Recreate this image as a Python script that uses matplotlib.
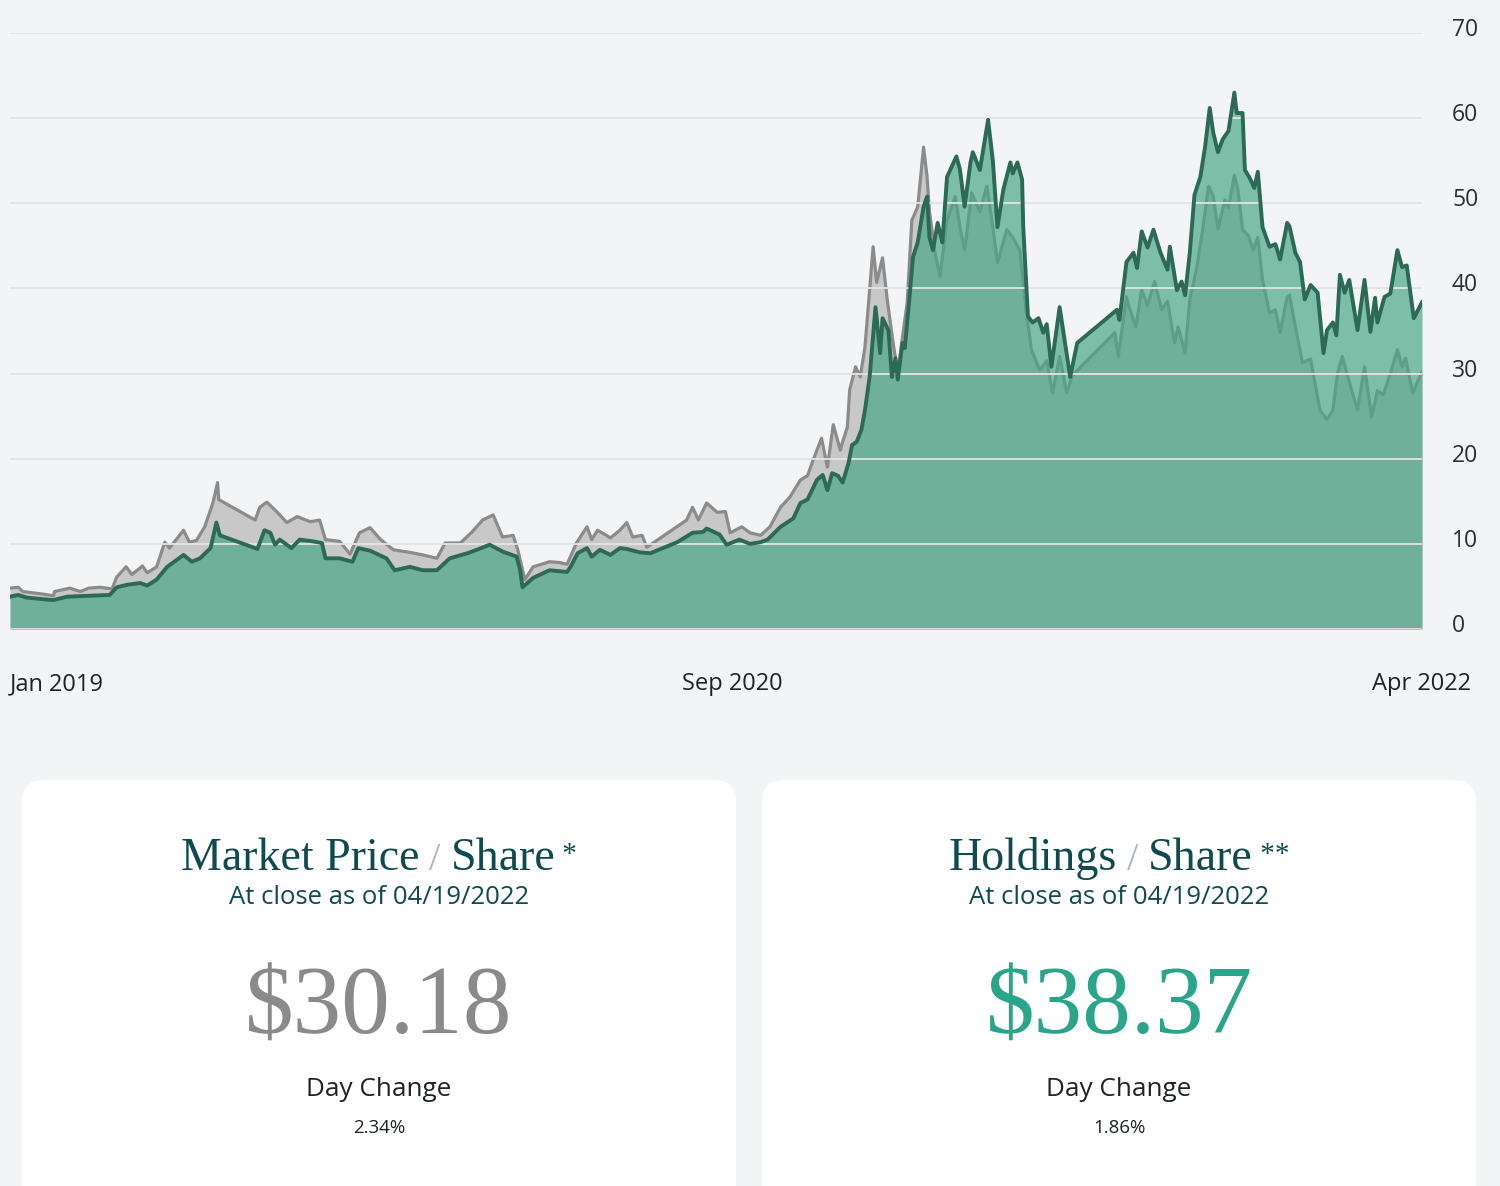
import matplotlib
matplotlib.use("Agg")
import matplotlib.pyplot as plt
from matplotlib.patches import FancyBboxPatch
import pandas as pd

# ---------------- data (days since 2019-01-01, value in $) ----------------
start = pd.Timestamp("2019-01-01")
end = pd.Timestamp("2022-04-19")

holdings_days = [0, 7, 14, 28, 37, 49, 66, 85, 91, 100, 111, 117, 125, 134, 139, 148, 155, 162,
                 171, 176, 179, 211, 217, 222, 226, 230, 240, 247, 258, 266, 269, 281, 292, 297,
                 307, 321, 328, 341, 352, 364, 375, 390, 398, 409, 420, 432, 435, 437, 446, 460,
                 475, 478, 484, 492, 496, 503, 512, 520, 526, 537, 546, 569, 582, 591, 594, 605,
                 611, 622, 631, 640, 646, 657, 668, 674, 680, 688, 693, 697, 701, 706, 710, 715,
                 718, 722, 726, 729, 733, 738, 742, 744, 749, 752, 755, 757, 761, 763, 767, 770,
                 774, 779, 782, 784, 787, 791, 795, 799, 803, 807, 810, 814, 819, 821, 827, 834,
                 838, 842, 847, 853, 855, 859, 863, 864, 868, 872, 877, 881, 884, 888, 895, 904,
                 910, 944, 946, 952, 958, 961, 965, 970, 975, 981, 987, 989, 995, 999, 1002, 1006,
                 1010, 1015, 1019, 1023, 1026, 1030, 1034, 1039, 1044, 1046, 1051, 1053, 1057,
                 1061, 1064, 1068, 1074, 1079, 1083, 1089, 1091, 1096, 1100, 1104, 1109, 1115,
                 1120, 1123, 1128, 1131, 1134, 1138, 1142, 1149, 1155, 1160, 1164, 1166, 1172,
                 1177, 1183, 1187, 1191, 1197, 1204]
holdings = [3.8, 4.0, 3.7, 3.5, 3.4, 3.8, 3.9, 4.0, 4.9, 5.2, 5.4, 5.1, 5.8, 7.3, 7.8, 8.7, 7.9, 8.3,
            9.5, 12.5, 11.0, 9.4, 11.6, 11.3, 9.9, 10.5, 9.5, 10.5, 10.3, 10.1, 8.3, 8.3, 7.9, 9.5,
            9.2, 8.3, 6.9, 7.3, 6.9, 6.9, 8.3, 8.9, 9.3, 9.9, 9.1, 8.5, 6.9, 4.9, 6.0, 6.9,
            6.7, 7.3, 8.9, 9.5, 8.5, 9.3, 8.7, 9.5, 9.4, 9.0, 8.9, 10.2, 11.3, 11.4, 11.8, 11.1,
            9.9, 10.5, 10.0, 10.2, 10.5, 12.0, 13.0, 14.8, 15.2, 17.5, 18.1, 16.3, 18.3, 18.0, 17.2, 19.5,
            21.6, 22.0, 23.4, 25.7, 29.6, 37.8, 32.4, 36.5, 35.1, 29.6, 31.8, 29.3, 33.6, 33.0, 39.0, 43.7,
            45.4, 49.6, 50.8, 46.0, 44.5, 47.7, 45.4, 53.1, 54.3, 55.5, 54.0, 49.6, 54.8, 56.0, 53.9, 59.8,
            55.1, 47.2, 51.6, 54.8, 53.5, 54.8, 52.8, 47.2, 36.7, 36.0, 36.5, 34.8, 35.8, 30.8, 37.8, 29.6,
            33.6, 37.5, 36.3, 43.1, 44.2, 42.4, 46.7, 44.8, 46.9, 44.2, 42.2, 44.9, 39.8, 40.8, 39.2, 44.2,
            51.0, 53.1, 56.6, 61.2, 58.3, 56.0, 57.5, 58.5, 63.0, 60.6, 60.6, 53.9, 53.0,
            51.8, 53.7, 47.2, 44.9, 45.2, 43.4, 47.7, 47.3, 44.2, 43.1, 38.7, 40.4, 39.5,
            32.4, 35.1, 36.0, 34.5, 41.6, 39.5, 41.0, 35.1, 41.0, 34.9, 38.9, 36.0, 39.0,
            39.4, 44.5, 42.5, 42.7, 36.5, 38.37]

market_days = [0, 7, 11, 28, 37, 38, 51, 60, 67, 77, 87, 91, 99, 104, 113, 117, 125, 132, 136, 148,
               153, 159, 166, 173, 177, 178, 209, 213, 219, 228, 236, 245, 256, 264, 269, 281, 290,
               298, 307, 316, 327, 341, 352, 364, 371, 384, 394, 403, 412, 420, 429, 433, 439, 446,
               460, 469, 475, 483, 492, 496, 501, 506, 512, 520, 526, 531, 539, 543, 577, 582, 587,
               594, 603, 610, 614, 624, 631, 640, 648, 657, 665, 674, 680, 685, 692, 697, 702, 708,
               710, 714, 716, 721, 725, 729, 736, 739, 744, 748, 753, 757, 761, 765, 769, 774, 779,
               782, 784, 789, 793, 799, 806, 810, 814, 820, 827, 833, 838, 842, 850, 855, 861, 867,
               871, 878, 884, 889, 895, 901, 906, 942, 945, 952, 955, 960, 965, 970, 976, 982, 987,
               993, 996, 1002, 1006, 1012, 1017, 1022, 1026, 1030, 1036, 1039, 1044, 1047, 1051,
               1056, 1060, 1064, 1068, 1074, 1079, 1083, 1089, 1091, 1097, 1102, 1109, 1117, 1123,
               1128, 1132, 1136, 1140, 1149, 1155, 1161, 1166, 1171, 1177, 1183, 1187, 1190, 1196,
               1204]
market = [4.8, 4.9, 4.4, 4.1, 3.9, 4.4, 4.8, 4.4, 4.8, 4.9, 4.7, 6.1, 7.3, 6.4, 7.4, 6.6, 7.3, 10.2, 9.5, 11.6,
          10.2, 10.4, 12.0, 14.8, 17.2, 15.2, 12.8, 14.3, 14.9, 13.7, 12.5, 13.2, 12.6, 12.8, 10.5, 10.3, 8.8,
          11.3, 11.9, 10.5, 9.3, 9.0, 8.7, 8.3, 10.1, 10.1, 11.4, 12.8, 13.4, 10.8, 11.0, 9.3, 5.8, 7.3,
          7.9, 7.8, 7.6, 10.1, 12.0, 10.5, 11.6, 11.2, 10.7, 11.6, 12.5, 10.8, 11.0, 9.6, 12.8, 14.3, 12.8,
          14.8, 13.7, 13.8, 11.3, 12.0, 11.3, 11.0, 12.0, 14.3, 15.5, 17.5, 18.0, 19.9, 22.4, 19.0, 24.0, 21.0,
          22.0, 23.7, 28.1, 30.8, 29.6, 33.1, 44.9, 40.7, 43.6, 38.7, 33.6, 30.0, 34.3, 38.3, 48.0, 49.6, 56.6,
          53.1, 49.0, 44.0, 41.4, 48.0, 50.8, 47.2, 44.5, 51.2, 49.0, 52.0, 47.2, 43.0, 46.9, 46.0, 44.5, 36.7,
          32.8, 30.4, 31.5, 27.7, 32.0, 27.7, 29.8, 34.8, 32.0, 39.0, 37.5, 35.5, 39.8, 38.0, 40.8, 37.5, 38.5,
          33.6, 35.5, 32.4, 38.7, 42.5, 46.9, 52.0, 50.8, 47.0, 50.4, 49.5, 53.3, 51.6, 46.9,
          46.2, 44.5, 46.0, 41.0, 37.1, 37.5, 34.8, 39.0, 39.2, 34.8, 31.3, 31.7, 25.7, 24.6,
          25.7, 30.0, 32.0, 30.0, 25.7, 30.8, 24.9, 28.0, 27.5, 30.0, 32.8, 30.8, 31.8, 27.7,
          30.18]

y_ticks = [0, 10, 20, 30, 40, 50, 60, 70]
x_tick_dates = ["2019-01-01", "2020-09-08", "2022-04-19"]
x_tick_labels = ["Jan 2019", "Sep 2020", "Apr 2022"]

cards = [
    {"title": ["Market Price", "Share", "*"], "sub": "At close as of 04/19/2022",
     "value": "$30.18", "vcolor": "#8a8a8a", "chg": "2.34%"},
    {"title": ["Holdings", "Share", "**"], "sub": "At close as of 04/19/2022",
     "value": "$38.37", "vcolor": "#2aa58a", "chg": "1.86%"},
]

# ---------------- figure ----------------
W, H = 1500, 1186
BG = "#f3f4f6"
fig = plt.figure(figsize=(W / 100, H / 100), dpi=100)
fig.patch.set_facecolor(BG)

SANS = ["Open Sans", "DejaVu Sans"]
SERIF = ["Liberation Serif", "DejaVu Serif"]
TITLE_C = "#0f4a50"
TEXT_C = "#1e2326"

# overlay axes in pixel coordinates for cards
ov = fig.add_axes([0, 0, 1, 1], zorder=0)
ov.set_xlim(0, W)
ov.set_ylim(H, 0)
ov.axis("off")
renderer = fig.canvas.get_renderer()


def centered_pieces(xc, y, pieces):
    texts = []
    for s, dy, kw in pieces:
        t = ov.text(0, y + dy, s, ha="left", va="baseline", zorder=2, **kw)
        texts.append(t)
    widths = [t.get_window_extent(renderer).width for t in texts]
    x = xc - sum(widths) / 2
    for t, w in zip(texts, widths):
        t.set_x(x)
        x += w


card_boxes = [(22, 780, 714), (762, 780, 714)]
for (cx, cy, cw), c in zip(card_boxes, cards):
    box = FancyBboxPatch((cx, cy), cw, 460, boxstyle="round,pad=0,rounding_size=22",
                         facecolor="white", edgecolor="none", zorder=1)
    ov.add_patch(box)
    mid = cx + cw / 2
    main_kw = dict(fontsize=33, family=SERIF, color=TITLE_C)
    centered_pieces(mid, 870, [
        (c["title"][0], 0, main_kw),
        (" / ", 0, dict(fontsize=29, family=SERIF, color="#a9b6b8")),
        (c["title"][1], 0, main_kw),
        (" " + c["title"][2], -8, dict(fontsize=21, family=SERIF, color=TITLE_C)),
    ])
    ov.text(mid, 898, c["sub"], ha="center", va="center", fontsize=18.5,
            family=SANS, color=TITLE_C, zorder=2)
    ov.text(mid, 1010, c["value"], ha="center", va="center", fontsize=70,
            family=SERIF, color=c["vcolor"], zorder=2)
    ov.text(mid, 1090, "Day Change", ha="center", va="center", fontsize=18.8,
            family=SANS, color=TEXT_C, zorder=2)
    ov.text(mid, 1128, c["chg"], ha="center", va="center", fontsize=13.5,
            family=SANS, color=TEXT_C, zorder=2)

# main chart
ax = fig.add_axes([10 / W, 1 - 629 / H, 1412 / W, (629 - 33) / H], zorder=2)
ax.set_facecolor("none")

hd = start + pd.to_timedelta(holdings_days, unit="D")
md = start + pd.to_timedelta(market_days, unit="D")

ax.fill_between(md, market, 0, color="#c8c8c9", lw=0, zorder=1)
ax.plot(md, market, color="#8b8b8b", lw=2.3, zorder=1.2, solid_joinstyle="round")
ax.fill_between(hd, holdings, 0, color="#4aa787", alpha=0.7, lw=0, zorder=1.5)
ax.plot(hd, holdings, color="#2c6a56", lw=2.8, zorder=3, solid_joinstyle="round")

ax.set_xlim(start, end)
ax.set_ylim(0, 70)
for s in ax.spines.values():
    s.set_visible(False)

ax.set_yticks(y_ticks)
ax.tick_params(axis="y", length=0, labelleft=False, labelright=False)
ax.grid(axis="y", color="#e2e4e7", lw=1.3)
ax.set_axisbelow(False)
for v in y_ticks:
    ax.annotate(str(v), xy=(1, v), xycoords=("axes fraction", "data"),
                xytext=(30 * 0.72, 3 * 0.72), textcoords="offset points",
                ha="left", va="center", fontsize=16.5, family=SANS, color="#2b2f33",
                annotation_clip=False)

ax.set_xticks(pd.to_datetime(x_tick_dates))
ax.set_xticklabels(x_tick_labels)
ax.tick_params(axis="x", length=0, pad=31, labelsize=17, labelcolor=TEXT_C)
xl = ax.get_xticklabels()
for lab in xl:
    lab.set_family(SANS)
xl[0].set_horizontalalignment("left")

fig.savefig("out.png", dpi=100, facecolor=BG)
